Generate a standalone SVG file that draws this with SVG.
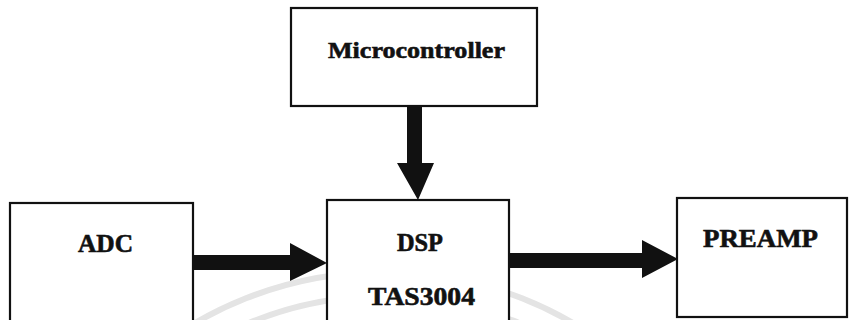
<svg xmlns="http://www.w3.org/2000/svg" width="849" height="320" viewBox="0 0 849 320">
<defs>
<style>
.box{fill:#fff;stroke:#111;stroke-width:2.2}
.lbl{font-family:"Liberation Serif","Times New Roman",serif;font-weight:bold;font-size:25px;fill:#111;stroke:#111;stroke-width:0.6}
.arr{fill:#111;stroke:none}
.wm{fill:none;stroke:#e4e4e4;stroke-width:6}
</style>
</defs>
<rect width="849" height="320" fill="#fff"/>
<g id="watermark">
<circle class="wm" cx="384" cy="647" r="375"/>
<circle class="wm" cx="384" cy="647" r="351"/>
</g>
<g id="microcontroller">
<rect class="box" x="291" y="8" width="246" height="98"/>
<text class="lbl" x="416.5" y="58" text-anchor="middle" textLength="177" lengthAdjust="spacingAndGlyphs" style="font-size:24px">Microcontroller</text>
</g>
<g id="adc">
<rect class="box" x="10" y="203" width="183" height="130"/>
<text class="lbl" x="105.5" y="252" text-anchor="middle" textLength="55" lengthAdjust="spacingAndGlyphs">ADC</text>
</g>
<g id="dsp">
<rect class="box" x="327" y="200" width="182" height="130"/>
<text class="lbl" x="420" y="251" text-anchor="middle" textLength="46" lengthAdjust="spacingAndGlyphs">DSP</text>
<text class="lbl" x="421.5" y="305" text-anchor="middle" textLength="107" lengthAdjust="spacingAndGlyphs">TAS3004</text>
</g>
<g id="preamp">
<rect class="box" x="677" y="198" width="170" height="119"/>
<text class="lbl" x="703" y="247" textLength="115" lengthAdjust="spacingAndGlyphs">PREAMP</text>
</g>
<g id="connectors">
<path class="arr" d="M407,106 H422 V163 H434 L418,200 L397,163 H407 Z"/>
<path class="arr" d="M193,255 H290 V243 L327,263 L290,281 V270 H193 Z"/>
<path class="arr" d="M509,253 H642 V240 L678,259 L642,278 V268 H509 Z"/>
</g>
</svg>
